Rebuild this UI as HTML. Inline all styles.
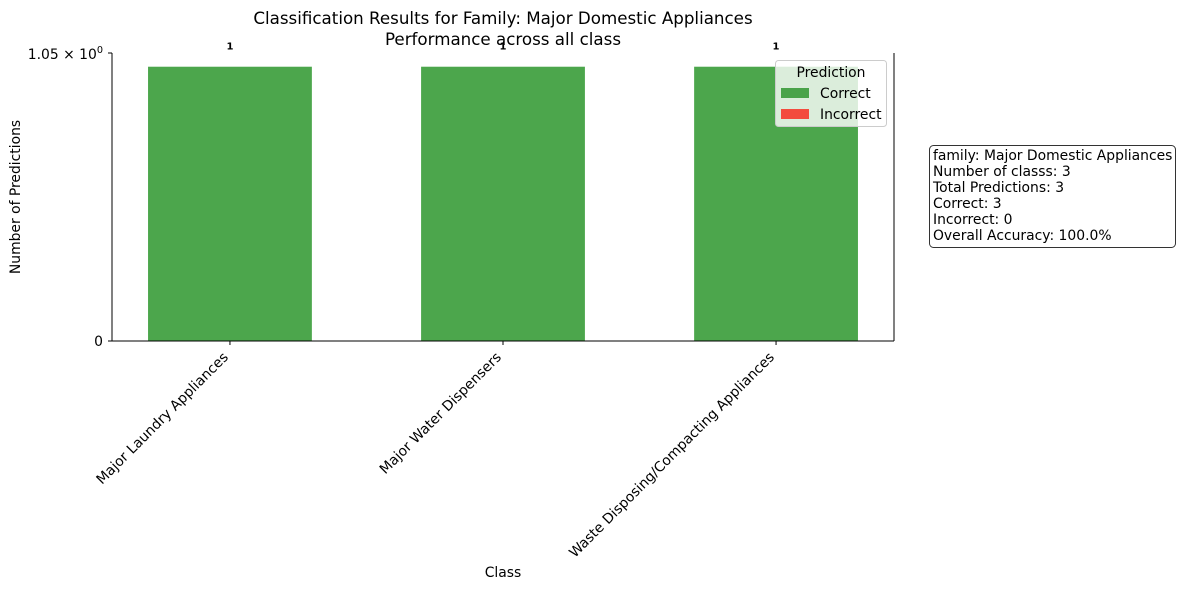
<!DOCTYPE html>
<html><head><meta charset="utf-8"><style>
body{margin:0;background:#fff}
svg{font-family:"DejaVu Sans","Liberation Sans",sans-serif;display:block}
</style></head><body>
<svg width="1182" height="590" viewBox="0 0 1182 590">
<rect width="1182" height="590" fill="#fff"/>
<text x="503" y="24" font-size="16.7" text-anchor="middle">Classification Results for Family: Major Domestic Appliances</text>
<text x="503" y="45" font-size="16.7" text-anchor="middle">Performance across all class</text>
<g id="plot"></g>
<g id="xlabels"></g>
<line x1="112" y1="53" x2="112" y2="341" stroke="#000" stroke-width="1"/>
<line x1="894" y1="53" x2="894" y2="341" stroke="#000" stroke-width="1"/>
<line x1="112" y1="341" x2="894" y2="341" stroke="#000" stroke-width="1"/>
<line x1="108" y1="341" x2="112" y2="341" stroke="#000"/>
<line x1="108" y1="53" x2="112" y2="53" stroke="#000"/>
<text x="103" y="346" font-size="13.9" text-anchor="end">0</text>
<text x="103" y="59" font-size="13.9" text-anchor="end">1.05 × 10<tspan dy="-6" font-size="9.7">0</tspan></text>
<text transform="translate(20,197) rotate(-90)" font-size="13.9" text-anchor="middle">Number of Predictions</text>
<text x="503" y="577" font-size="13.9" text-anchor="middle">Class</text>
<g>
<rect x="775.5" y="60.5" width="111" height="66" rx="3" fill="#fff" fill-opacity="0.8" stroke="#ccc"/>
<text x="831" y="77" font-size="13.9" text-anchor="middle">Prediction</text>
<rect x="781" y="88" width="28" height="10" fill="#3a9a3a" opacity="0.9"/>
<text x="820" y="98" font-size="13.9">Correct</text>
<rect x="781" y="109" width="28" height="10" fill="#f44336" opacity="0.95"/>
<text x="820" y="119" font-size="13.9">Incorrect</text>
</g>
<g>
<rect x="929.5" y="145.5" width="246" height="102" rx="4" fill="#fff" stroke="#333"/>
<text font-size="13.9" x="933">
<tspan x="933" y="160">family: Major Domestic Appliances</tspan>
<tspan x="933" y="176">Number of classs: 3</tspan>
<tspan x="933" y="192">Total Predictions: 3</tspan>
<tspan x="933" y="208">Correct: 3</tspan>
<tspan x="933" y="224">Incorrect: 0</tspan>
<tspan x="933" y="240">Overall Accuracy: 100.0%</tspan>
</text>
</g>
</svg>
<script>
const categories=["Major Laundry Appliances","Major Water Dispensers","Waste Disposing/Compacting Appliances"];
const correctVals=[1,1,1];
const incorrectVals=[0,0,0];
const yMax=1.05;
const X0=112,X1=894,Y0=341,Y1=53,xMin=-0.432,xMax=2.432;
function xs(i){return X0+(i-xMin)/(xMax-xMin)*(X1-X0);}
function ys(v){return Y0-v/yMax*(Y0-Y1);}
const ns="http://www.w3.org/2000/svg";
const plot=document.getElementById('plot'),xl=document.getElementById('xlabels');
const bw=0.6*(X1-X0)/(xMax-xMin);
categories.forEach((c,i)=>{
  const cx=xs(i);
  const r=document.createElementNS(ns,'rect');
  r.setAttribute('x',cx-bw/2);r.setAttribute('width',bw);
  r.setAttribute('y',ys(correctVals[i]));r.setAttribute('height',Y0-ys(correctVals[i]));
  r.setAttribute('fill','#4ca64c');
  
  
  plot.appendChild(r);
  const r2=document.createElementNS(ns,'rect');
  r2.setAttribute('x',cx-bw/2);r2.setAttribute('width',bw);
  r2.setAttribute('y',ys(correctVals[i]+incorrectVals[i]));r2.setAttribute('height',ys(correctVals[i])-ys(correctVals[i]+incorrectVals[i]));
  r2.setAttribute('fill','#f44336');
  
  
  plot.appendChild(r2);
  const t=document.createElementNS(ns,'text');
  t.setAttribute('x',cx);t.setAttribute('y',ys(correctVals[i]+incorrectVals[i])-17);
  t.setAttribute('font-size','10');t.setAttribute('font-weight','bold');t.setAttribute('text-anchor','middle');
  t.textContent=String(correctVals[i]+incorrectVals[i]);
  
  
  plot.appendChild(t);
  const tk=document.createElementNS(ns,'line');
  tk.setAttribute('x1',cx);tk.setAttribute('x2',cx);tk.setAttribute('y1',Y0);tk.setAttribute('y2',Y0+4);tk.setAttribute('stroke','#000');
  xl.appendChild(tk);
  const l=document.createElementNS(ns,'text');
  l.setAttribute('transform','translate('+(cx-1)+','+(Y0+17)+') rotate(-45)');
  l.setAttribute('font-size','13.9');l.setAttribute('text-anchor','end');
  l.textContent=c;
  
  
  xl.appendChild(l);
});
</script>
</body></html>
